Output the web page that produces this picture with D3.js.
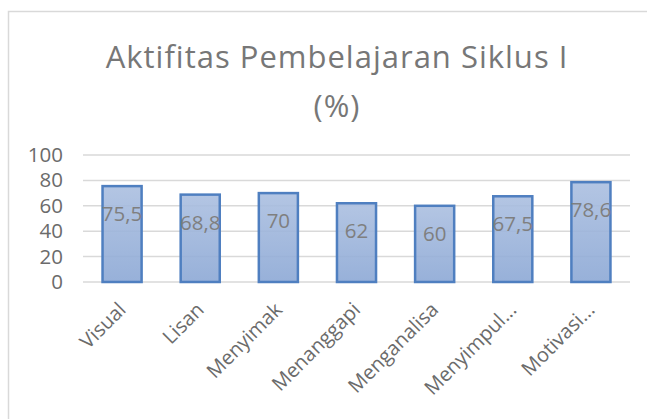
<!DOCTYPE html>
<html>
<head>
<meta charset="utf-8">
<script src="https://cdn.jsdelivr.net/npm/d3@7"></script>
<style>
  body { margin: 0; background: #fff; }
  text { font-family: "Open Sans", "Noto Sans", sans-serif; }
</style>
</head>
<body>
<script>
const categories = ["Visual", "Lisan", "Menyimak", "Menanggapi", "Menganalisa", "Menyimpul...", "Motivasi..."];
const values = [75.5, 68.8, 70, 62, 60, 67.5, 78.6];
const valueLabels = ["75,5", "68,8", "70", "62", "60", "67,5", "78,6"];
const yTicks = [0, 20, 40, 60, 80, 100];
const titleLines = ["Aktifitas Pembelajaran Siklus I", "(%)"];

const width = 647, height = 419;
const plotLeft = 83, plotRight = 630, plotTop = 155, plotBottom = 282;

const svg = d3.select("body").append("svg")
  .attr("width", width)
  .attr("height", height);

// chart frame (only top/left visible in the crop)
svg.append("rect")
  .attr("x", 8.5).attr("y", 11.5)
  .attr("width", 700).attr("height", 500)
  .attr("fill", "#fff")
  .attr("stroke", "#d9d9d9")
  .attr("stroke-width", 1.5);

const defs = svg.append("defs");
const grad = defs.append("linearGradient")
  .attr("id", "barGrad")
  .attr("x1", 0).attr("y1", 0).attr("x2", 0).attr("y2", 1);
grad.append("stop").attr("offset", "0%").attr("stop-color", "#abbfe0");
grad.append("stop").attr("offset", "100%").attr("stop-color", "#8ca8d5");

// title
svg.append("g").selectAll("text")
  .data(titleLines)
  .enter()
  .append("text")
  .attr("x", 337)
  .attr("y", (d, i) => 68 + i * 49)
  .attr("text-anchor", "middle")
  .attr("fill", "#777")
  .attr("font-size", "31px")
  .attr("letter-spacing", "1px")
  .text(d => d);

const x = d3.scaleBand(categories, [plotLeft, plotRight]).paddingInner(0.5).paddingOuter(0.25);
const y = d3.scaleLinear([0, 100], [plotBottom, plotTop]);

// gridlines
svg.append("g").selectAll("line")
  .data(yTicks)
  .enter()
  .append("line")
  .attr("x1", plotLeft).attr("x2", plotRight)
  .attr("y1", d => y(d)).attr("y2", d => y(d))
  .attr("stroke", "#d9d9d9")
  .attr("stroke-width", 1.5);

// y axis labels
const yAxis = svg.append("g")
  .attr("transform", "translate(" + (plotLeft - 20) + ",0)")
  .call(d3.axisLeft(y).tickValues(yTicks).tickSize(0).tickPadding(0));
yAxis.select(".domain").remove();
yAxis.selectAll("text")
  .attr("font-size", "20.5px")
  .attr("fill", "#6b6b6b")
  .attr("font-family", "'Open Sans', 'Noto Sans', sans-serif");

// bars
svg.append("g").selectAll("rect")
  .data(values)
  .enter()
  .append("rect")
  .attr("x", (d, i) => x(categories[i]))
  .attr("y", d => y(d))
  .attr("width", x.bandwidth())
  .attr("height", d => y(0) - y(d))
  .attr("fill", "url(#barGrad)")
  .attr("fill-opacity", 0.9)
  .attr("stroke", "#4f7fc0")
  .attr("stroke-width", 2.5);

// value labels
svg.append("g").selectAll("text")
  .data(values)
  .enter()
  .append("text")
  .attr("x", (d, i) => x(categories[i]) + x.bandwidth() / 2)
  .attr("y", d => y(d) + 35)
  .attr("text-anchor", "middle")
  .attr("font-size", "20.5px")
  .attr("fill", "#7f7f7f")
  .text((d, i) => valueLabels[i]);

// x axis labels
const xAxis = svg.append("g")
  .attr("transform", "translate(0," + plotBottom + ")")
  .call(d3.axisBottom(x).tickSize(0).tickPadding(0));
xAxis.select(".domain").remove();
xAxis.selectAll("text")
  .attr("font-size", "20px")
  .attr("fill", "#6b6b6b")
  .attr("font-family", "'Open Sans', 'Noto Sans', sans-serif")
  .attr("text-anchor", "end")
  .attr("dy", 0)
  .attr("transform", "translate(5,29) rotate(-45)");
</script>
</body>
</html>
